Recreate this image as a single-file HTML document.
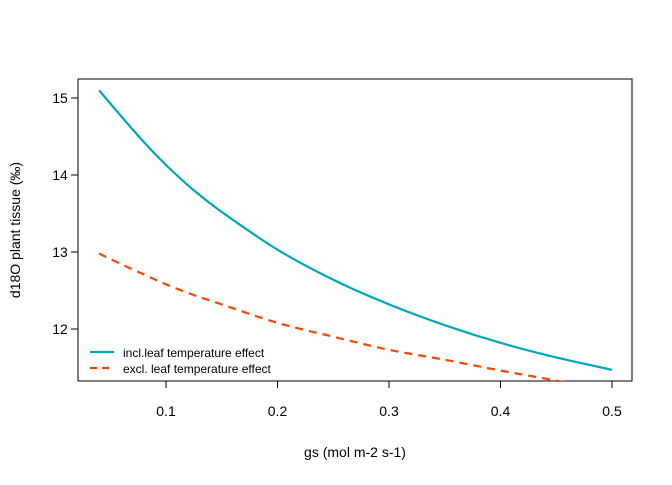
<!DOCTYPE html>
<html><head><meta charset="utf-8"><style>body{margin:0;background:#fff}svg{font-family:"Liberation Sans",sans-serif}</style></head>
<body>
<svg id="c" width="672" height="480">
<defs><clipPath id="clip"><rect x="78" y="79" width="554" height="302"/></clipPath></defs>
<rect x="78" y="79" width="554" height="302" fill="none" stroke="#000"/>
<g id="axes"></g>
<g id="series" clip-path="url(#clip)"></g>
<text x="355" y="457" font-size="14" text-anchor="middle">gs (mol m-2 s-1)</text>
<text transform="translate(20,230) rotate(-90)" font-size="14" text-anchor="middle">d18O plant tissue (‰)</text>
<g>
<line x1="90" y1="352" x2="114" y2="352" stroke="#00A5BE" stroke-width="2.2"/>
<text x="123" y="357" font-size="12">incl.leaf temperature effect</text>
<line x1="90" y1="368" x2="114" y2="368" stroke="#FF4500" stroke-width="2.2" stroke-dasharray="7,5"/>
<text x="123" y="373" font-size="12">excl. leaf temperature effect</text>
</g>
</svg>
<script>
const gs=[0.04,0.06,0.08,0.1,0.125,0.15,0.2,0.25,0.3,0.35,0.4,0.45,0.5];
const incl=[15.1,14.76,14.43,14.13,13.8,13.52,13.03,12.64,12.32,12.05,11.82,11.63,11.47];
const excl=[12.98,12.84,12.71,12.58,12.44,12.32,12.08,11.9,11.73,11.6,11.46,11.33,11.2];
const xTicks=[0.1,0.2,0.3,0.4,0.5];
const yTicks=[12,13,14,15];
const X=v=>166+(v-0.1)*1115;
const Y=v=>329-(v-12)*77;
const NS="http://www.w3.org/2000/svg";
const ax=document.getElementById('axes'),se=document.getElementById('series');
function mk(t,a,p){const e=document.createElementNS(NS,t);for(const k in a)e.setAttribute(k,a[k]);p.appendChild(e);return e;}
xTicks.forEach(v=>{
const l=mk('line',{x1:X(v),x2:X(v),y1:381,y2:388,stroke:'#000'},ax);


const t=mk('text',{x:X(v),y:416,'font-size':14,'text-anchor':'middle'},ax);t.textContent=v;


});
yTicks.forEach(v=>{
const l=mk('line',{x1:71,x2:78,y1:Y(v),y2:Y(v),stroke:'#000'},ax);


const t=mk('text',{x:60,y:Y(v)+5,'font-size':14,'text-anchor':'middle'},ax);t.textContent=v;


});
function path(vals){
const pts=vals.map((v,i)=>[X(gs[i]),Y(v)]);
let d='M'+pts[0][0]+','+pts[0][1];
for(let i=0;i<pts.length-1;i++){
const p0=pts[Math.max(0,i-1)],p1=pts[i],p2=pts[i+1],p3=pts[Math.min(pts.length-1,i+2)];
const c1=[p1[0]+(p2[0]-p0[0])/6,p1[1]+(p2[1]-p0[1])/6];
const c2=[p2[0]-(p3[0]-p1[0])/6,p2[1]-(p3[1]-p1[1])/6];
d+=' C'+c1+' '+c2+' '+p2;
}
return d;}
const p1=mk('path',{d:path(incl),fill:'none',stroke:'#00A5BE','stroke-width':2.2},se);


const p2=mk('path',{d:path(excl),fill:'none',stroke:'#FF4500','stroke-width':2.2,'stroke-dasharray':'8,6'},se);


</script>
</body></html>
